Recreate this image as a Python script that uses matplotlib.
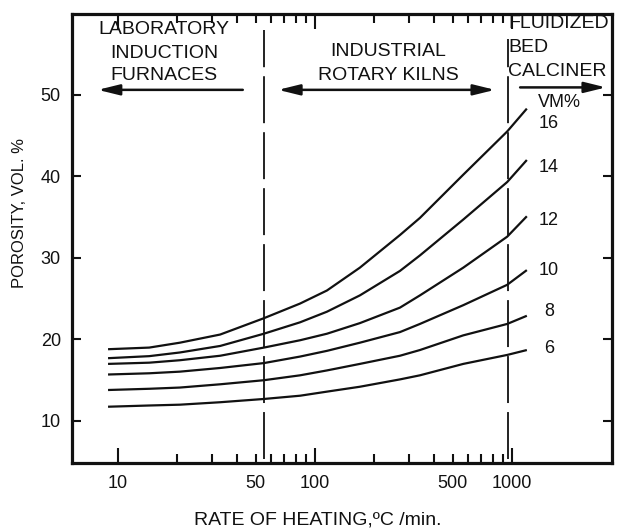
import matplotlib
matplotlib.use("Agg")
import matplotlib.pyplot as plt
from matplotlib.ticker import FixedLocator, FuncFormatter

plt.rcParams['font.family'] = ['Liberation Sans', 'DejaVu Sans']

# ---- data ----
rate = [8.9, 14.4, 20.6, 33, 55, 84, 115, 169, 270, 341, 566, 946, 1190]
vm16 = [18.8, 19.0, 19.6, 20.6, 22.6, 24.4, 26.0, 28.8, 32.8, 34.9, 40.2, 45.5, 48.3]
vm14 = [17.7, 17.95, 18.4, 19.2, 20.7, 22.1, 23.4, 25.4, 28.4, 30.3, 34.7, 39.3, 42.0]
vm12 = [17.0, 17.15, 17.45, 18.0, 19.0, 19.9, 20.7, 22.0, 23.9, 25.4, 28.8, 32.6, 35.1]
vm10 = [15.7, 15.85, 16.05, 16.5, 17.1, 17.9, 18.6, 19.6, 20.9, 21.9, 24.2, 26.7, 28.5]
vm8 = [13.8, 13.95, 14.1, 14.5, 15.0, 15.6, 16.2, 17.0, 18.0, 18.7, 20.5, 21.9, 22.9]
vm6 = [11.75, 11.9, 12.0, 12.3, 12.7, 13.1, 13.6, 14.2, 15.1, 15.6, 17.0, 18.1, 18.7]
series = [vm16, vm14, vm12, vm10, vm8, vm6]
series_labels = ['16', '14', '12', '10', '8', '6']
label_y = [46.5, 41.1, 34.6, 28.5, 23.4, 18.9]

boundaries = [55, 950]
x_major = [10, 100, 1000]
x_minor = [20, 30, 40, 50, 60, 70, 80, 90, 200, 300, 400, 500, 600, 700, 800, 900]
x_minor_labeled = [50, 500]
y_ticks = [10, 20, 30, 40, 50]

W, H = 618, 532
fig = plt.figure(figsize=(W / 100, H / 100), dpi=100)
ax = fig.add_axes([72 / W, 1 - 463 / H, 540 / W, 449 / H])

for s in series:
    ax.plot(rate, s, color='#111111', lw=1.6, solid_capstyle='butt', solid_joinstyle='round')

for xb, (y0, y1) in zip(boundaries, [(0.01, 0.965), (0.01, 0.945)]):
    ax.axvline(xb, ymin=y0, ymax=y1, color='#111111', lw=1.3, dashes=(26, 5))

ax.set_xscale('log')
ax.set_xlim(5.84, 3220)
ax.set_ylim(4.85, 59.9)

ax.xaxis.set_major_locator(FixedLocator(x_major))
ax.xaxis.set_minor_locator(FixedLocator(x_minor))
ax.xaxis.set_major_formatter(FuncFormatter(lambda v, p: f"{v:g}"))
ax.xaxis.set_minor_formatter(FuncFormatter(lambda v, p: f"{v:g}" if round(v) in x_minor_labeled else ""))
ax.yaxis.set_major_locator(FixedLocator(y_ticks))
ax.yaxis.set_minor_locator(FixedLocator([]))

ax.tick_params(axis='x', which='major', direction='in', length=11, width=1.5,
               top=True, bottom=True, labelsize=13, pad=9, colors='#111111')
ax.tick_params(axis='x', which='minor', direction='in', length=6.5, width=1.5,
               top=True, bottom=True, labelsize=13, pad=9, colors='#111111')
ax.tick_params(axis='y', which='major', direction='in', length=6.5, width=1.5,
               left=True, right=True, labelsize=13, pad=8, colors='#111111')

for sp in ax.spines.values():
    sp.set_linewidth(2.3)
    sp.set_color('#111111')

# curve labels
for lab, yv in zip(series_labels, label_y):
    ax.text(1540, yv, lab, ha='center', va='center', fontsize=13, color='#111111')
ax.text(1750, 49.1, 'VM%', ha='center', va='center', fontsize=13, color='#111111')

# region annotations (figure pixel positions)
def ftxt(x, y, s, ha='center', size=14):
    fig.text(x / W, 1 - y / H, s, ha=ha, va='center', fontsize=size, color='#111111')

ftxt(164, 30, 'LABORATORY')
ftxt(164, 53, 'INDUCTION')
ftxt(164, 75, 'FURNACES')
ftxt(388, 52, 'INDUSTRIAL')
ftxt(388, 75, 'ROTARY KILNS')
ftxt(508, 24, 'FLUIDIZED', ha='left')
ftxt(508, 48, 'BED', ha='left')
ftxt(508, 72, 'CALCINER', ha='left')

arrow = dict(arrowstyle='-|>,head_length=1.3,head_width=0.32', color='#111111', lw=1.8,
             shrinkA=0, shrinkB=0)
arrow2 = dict(arrowstyle='<|-|>,head_length=1.3,head_width=0.32', color='#111111', lw=1.8,
              shrinkA=0, shrinkB=0)
ax.annotate('', xy=(7.9, 50.6), xytext=(43, 50.6), arrowprops=arrow)
ax.annotate('', xy=(820, 50.6), xytext=(65, 50.6), arrowprops=arrow2)
ax.annotate('', xy=(3000, 50.9), xytext=(1100, 50.9), arrowprops=arrow)

ftxt(318, 520, 'RATE OF HEATING,ºC /min.', size=14)
fig.text(20 / W, 1 - 213 / H, 'POROSITY, VOL. %', rotation=90, ha='center', va='center',
         fontsize=12, color='#111111')

fig.savefig('out.png', dpi=100)
